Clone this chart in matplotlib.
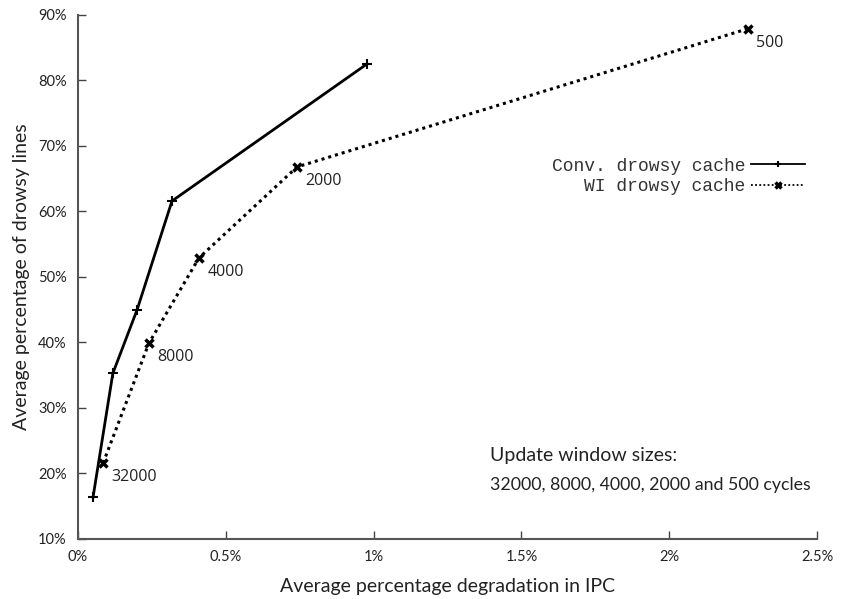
import matplotlib.pyplot as plt
from matplotlib.ticker import FuncFormatter

# Conv. drowsy cache
conv_ipc = [0.051, 0.118, 0.20, 0.318, 0.977]
conv_drowsy = [16.4, 35.3, 45.0, 61.6, 82.5]

# WI drowsy cache, one point per update window size
wi_ipc = [0.085, 0.24, 0.409, 0.741, 2.266]
wi_drowsy = [21.6, 39.9, 52.9, 66.8, 87.9]
wi_labels = ["32000", "8000", "4000", "2000", "500"]

x_ticks = [0, 0.5, 1, 1.5, 2, 2.5]
y_ticks = [10, 20, 30, 40, 50, 60, 70, 80, 90]

fig = plt.figure(figsize=(8.44, 5.99), dpi=100)
ax = fig.add_axes([0.0924, 0.1002, 0.8756, 0.8748])

ax.plot(conv_ipc, conv_drowsy, "-", color="black", linewidth=2.0,
        marker="+", markersize=7, markeredgewidth=1.5,
        label="Conv. drowsy cache")
ax.plot(wi_ipc, wi_drowsy, color="black", linewidth=2.2,
        linestyle=(0, (1, 1.3)),
        marker="x", markersize=6, markeredgewidth=2.5,
        label="WI drowsy cache")

for x, y, lab in zip(wi_ipc, wi_drowsy, wi_labels):
    ax.annotate(lab, (x, y), xytext=(6, -10), textcoords="offset points",
                ha="left", va="center", fontsize=11.5, family="Open Sans",
                color="#222222")

ax.set_xlim(0, 2.5)
ax.set_ylim(10, 90)
ax.set_xticks(x_ticks)
ax.set_yticks(y_ticks)
ax.xaxis.set_major_formatter(FuncFormatter(lambda v, p: f"{v:g}%"))
ax.yaxis.set_major_formatter(FuncFormatter(lambda v, p: f"{v:g}%"))
ax.tick_params(direction="in", length=6, width=1, color="#444444",
               labelsize=10.5, labelcolor="#222222", pad=8)
for lab in ax.get_xticklabels() + ax.get_yticklabels():
    lab.set_family("Lato")

for side in ("top", "right"):
    ax.spines[side].set_visible(False)
for side in ("left", "bottom"):
    ax.spines[side].set_color("#555555")
    ax.spines[side].set_linewidth(1.5)

ax.set_xlabel("Average percentage degradation in IPC", fontsize=14,
              family="Lato", color="#222222", labelpad=10)
ax.set_ylabel("Average percentage of drowsy lines", fontsize=14,
              family="Lato", color="#222222", labelpad=6)

leg = ax.legend(loc="upper right", bbox_to_anchor=(0.984, 0.728),
                frameon=False, markerfirst=False, handlelength=3.0,
                handletextpad=0.3, labelspacing=0.2, borderpad=0,
                borderaxespad=0,
                prop={"family": "Liberation Mono", "size": 13})
for t in leg.get_texts():
    t.set_color("#333333")
for h in leg.get_lines():
    h.set_linewidth(1.3)
    h.set_markersize(5)

ax.text(0.557, 0.160, "Update window sizes:", transform=ax.transAxes,
        fontsize=14, family="Lato", color="#222222", ha="left", va="center")
ax.text(0.557, 0.103, "32000, 8000, 4000, 2000 and 500 cycles",
        transform=ax.transAxes, fontsize=12.8, family="Lato",
        color="#222222", ha="left", va="center")

fig.savefig("out.png", dpi=100)
